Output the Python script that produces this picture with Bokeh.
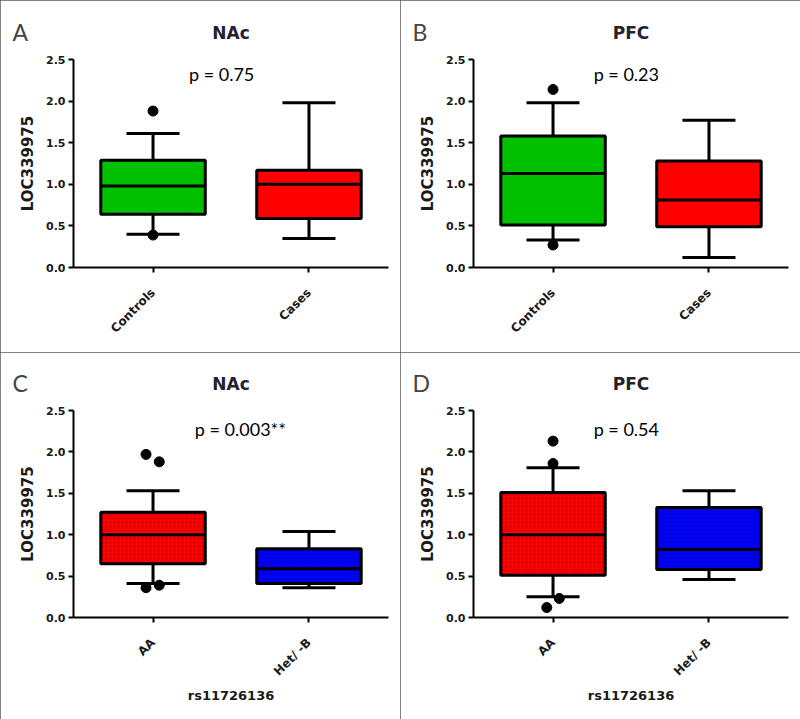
import math
from bokeh.plotting import figure
from bokeh.layouts import gridplot
from bokeh.models import Range1d, FixedTicker, Label, ColumnDataSource, Title
from bokeh.transform import dodge
from bokeh.embed import file_html
from bokeh.resources import INLINE

# ---------------- data ----------------
groups_status = ["Controls", "Cases"]
groups_geno = ["AA", "Het/ -B"]
y_ticks = [0.0, 0.5, 1.0, 1.5, 2.0, 2.5]
y_tick_labels = ["0.0", "0.5", "1.0", "1.5", "2.0", "2.5"]

# Panel A: NAc, Controls vs Cases
a_lo = [0.40, 0.35]
a_q1 = [0.64, 0.59]
a_med = [0.98, 1.00]
a_q3 = [1.29, 1.17]
a_hi = [1.61, 1.98]
a_out_group = [1, 1]
a_out_jitter = [0.0, 0.0]
a_out_val = [1.88, 0.39]
a_p = "p = 0.75"

# Panel B: PFC, Controls vs Cases
b_lo = [0.33, 0.12]
b_q1 = [0.51, 0.49]
b_med = [1.13, 0.81]
b_q3 = [1.58, 1.28]
b_hi = [1.98, 1.77]
b_out_group = [1, 1]
b_out_jitter = [0.0, 0.0]
b_out_val = [2.14, 0.27]
b_p = "p = 0.23"

# Panel C: NAc, rs11726136 genotype
c_lo = [0.41, 0.36]
c_q1 = [0.65, 0.41]
c_med = [1.00, 0.59]
c_q3 = [1.27, 0.83]
c_hi = [1.53, 1.04]
c_out_group = [1, 1, 1, 1]
c_out_jitter = [-0.045, 0.04, -0.045, 0.04]
c_out_val = [1.97, 1.88, 0.36, 0.39]
c_p = "p = 0.003**"

# Panel D: PFC, rs11726136 genotype
d_lo = [0.25, 0.46]
d_q1 = [0.51, 0.58]
d_med = [1.00, 0.82]
d_q3 = [1.51, 1.33]
d_hi = [1.81, 1.53]
d_out_group = [1, 1, 1, 1]
d_out_jitter = [0.0, 0.0, 0.04, -0.04]
d_out_val = [2.13, 1.86, 0.23, 0.12]
d_p = "p = 0.54"

GREEN = "#00C000"
RED = "#FF0000"
BLUE = "#0000FF"

TICK_FONT = "DejaVu Sans"
TEXT_FONT = "Lato"


def panel(letter, title, cats, lo, q1, med, q3, hi, og, oj, ov, ptxt, px, py,
          colors, hatch_colors, xlabel, height, top_border, bottom_border, title_offset):
    W = 400
    p = figure(width=W, height=height, output_backend="svg", toolbar_location=None,
               x_range=Range1d(0.49, 2.51), y_range=Range1d(0, 2.5),
               min_border_left=73, min_border_right=12, min_border_top=top_border,
               min_border_bottom=bottom_border, title=None)
    p.outline_line_color = None
    p.xgrid.visible = False
    p.ygrid.visible = False
    p.background_fill_color = "white"
    p.border_fill_color = "white"
    p.styles = {"outline": "1px solid #5a5a5a", "outline-offset": "-1px"}

    xs = [1, 2]
    data = dict(x=xs, lo=lo, q1=q1, med=med, q3=q3, hi=hi, color=colors)
    if hatch_colors is not None:
        data["hcolor"] = hatch_colors
    src = ColumnDataSource(data)
    p.segment(x0="x", y0="q3", x1="x", y1="hi", line_color="black", line_width=3, source=src)
    p.segment(x0="x", y0="lo", x1="x", y1="q1", line_color="black", line_width=3, source=src)
    p.segment(x0=dodge("x", -0.17), y0="hi", x1=dodge("x", 0.17), y1="hi",
              line_color="black", line_width=3, source=src)
    p.segment(x0=dodge("x", -0.17), y0="lo", x1=dodge("x", 0.17), y1="lo",
              line_color="black", line_width=3, source=src)
    kw = {}
    if hatch_colors is not None:
        kw = dict(hatch_pattern="dot", hatch_color="hcolor", hatch_scale=4,
                  hatch_weight=1, hatch_alpha=0.5)
    p.vbar(x="x", width=0.67, bottom="q1", top="q3", fill_color="color",
           line_color="black", line_width=3, source=src, **kw)
    p.segment(x0=dodge("x", -0.335), y0="med", x1=dodge("x", 0.335), y1="med",
              line_color="black", line_width=3, source=src)

    ox = [g + j for g, j in zip(og, oj)]
    p.scatter(x=ox, y=ov, size=10, fill_color="black", line_color="black")

    # axes
    for ax in (p.xaxis[0], p.yaxis[0]):
        ax.axis_line_width = 2
        ax.axis_line_color = "black"
        ax.major_tick_line_width = 2
        ax.major_tick_line_color = "black"
        ax.major_tick_out = 5
        ax.major_tick_in = 0
        ax.minor_tick_line_color = None
        ax.major_label_text_font = TICK_FONT
        ax.major_label_text_font_style = "bold"
        ax.major_label_text_color = "#1a1a1a"
        ax.axis_label_text_font = TICK_FONT
        ax.axis_label_text_font_style = "bold"
        ax.axis_label_text_color = "#1a1a1a"

    p.yaxis.ticker = FixedTicker(ticks=y_ticks)
    p.yaxis.major_label_overrides = {t: l for t, l in zip(y_ticks, y_tick_labels)}
    p.yaxis.major_label_text_font_size = "11px"
    p.yaxis.major_label_standoff = 3
    p.yaxis.axis_label = "LOC339975"
    p.yaxis.axis_label_text_font_size = "15px"
    p.yaxis.axis_label_standoff = 6

    p.xaxis.ticker = FixedTicker(ticks=xs)
    p.xaxis.major_label_overrides = {1: cats[0], 2: cats[1]}
    p.xaxis.major_label_orientation = math.pi / 4
    p.xaxis.major_label_text_font_size = "12px"
    p.xaxis.major_label_standoff = 18
    if xlabel:
        p.xaxis.axis_label = xlabel
        p.xaxis.axis_label_text_font_size = "13px"
        p.xaxis.axis_label_standoff = 2

    p.add_layout(Title(text=letter, align="left", offset=-61, text_font=TEXT_FONT,
                       text_font_size="23px", text_font_style="normal",
                       standoff=28, vertical_align="bottom"), "above")
    p.add_layout(Title(text=title, align="center", offset=title_offset, text_font=TICK_FONT,
                       text_font_size="17px", text_font_style="bold",
                       text_color="#23232f", standoff=-83,
                       vertical_align="bottom"), "above")
    p.add_layout(Label(x=px, y=py, text=ptxt, text_font=TEXT_FONT,
                       text_font_size="18px", text_color="black",
                       text_align="center", text_baseline="middle"))
    return p


pa = panel("A", "NAc", groups_status, a_lo, a_q1, a_med, a_q3, a_hi,
           a_out_group, a_out_jitter, a_out_val, a_p, 1.44, 2.32,
           [GREEN, RED], None, None, 352, 59, 85, -7)
pb = panel("B", "PFC", groups_status, b_lo, b_q1, b_med, b_q3, b_hi,
           b_out_group, b_out_jitter, b_out_val, b_p, 1.47, 2.32,
           [GREEN, RED], None, None, 352, 59, 85, 0)
pc = panel("C", "NAc", groups_geno, c_lo, c_q1, c_med, c_q3, c_hi,
           c_out_group, c_out_jitter, c_out_val, c_p, 1.56, 2.28,
           [RED, BLUE], ["#7a0000", "#00007a"], "rs11726136", 367, 57, 102, -6)
pd_ = panel("D", "PFC", groups_geno, d_lo, d_q1, d_med, d_q3, d_hi,
            d_out_group, d_out_jitter, d_out_val, d_p, 1.47, 2.28,
            [RED, BLUE], ["#7a0000", "#00007a"], "rs11726136", 367, 57, 102, -6)

grid = gridplot([[pa, pb], [pc, pd_]], toolbar_location=None)
open("out.html", "w").write(file_html(grid, INLINE))
